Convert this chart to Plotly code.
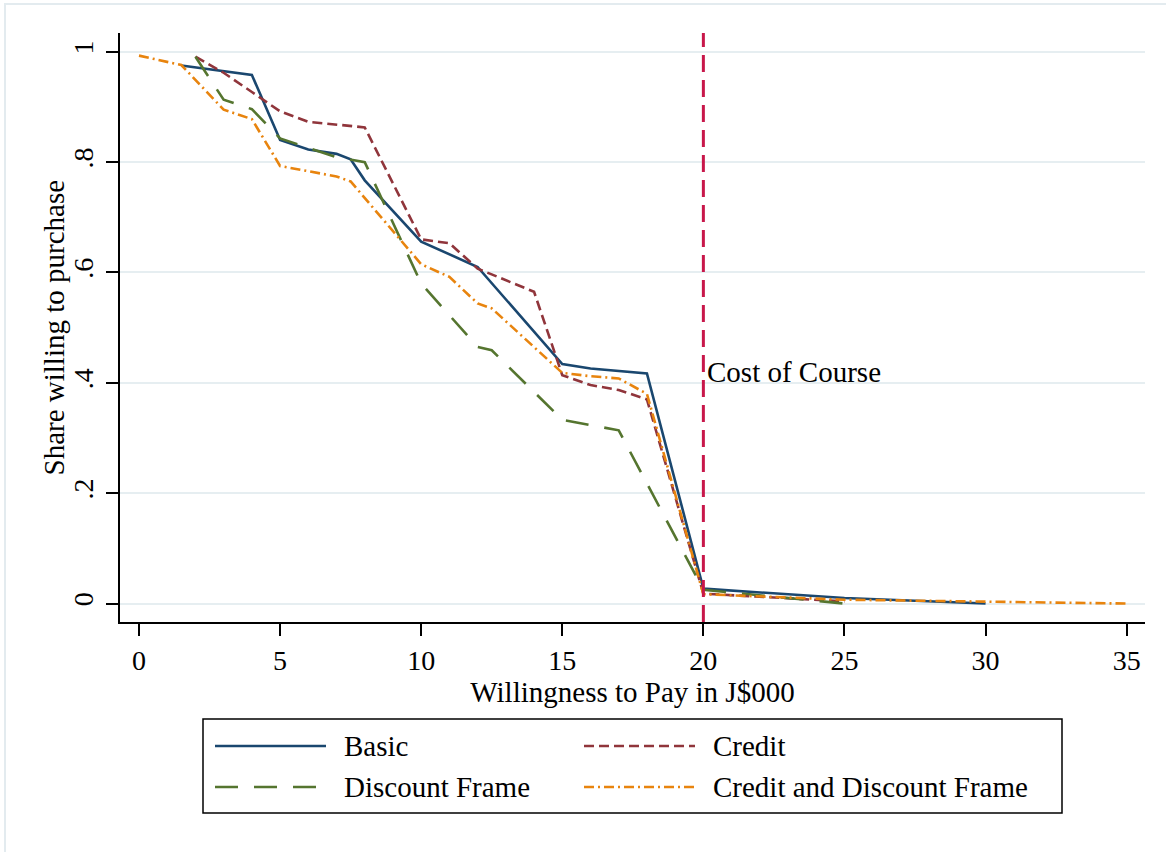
import plotly.graph_objects as go

# ---------------- data ----------------
basic_x = [1.5, 4, 5, 6, 7, 7.5, 8, 10, 12, 15, 16, 18, 20, 25, 30]
basic_y = [0.975, 0.958, 0.840, 0.823, 0.815, 0.805, 0.767, 0.656, 0.610, 0.434, 0.426, 0.417, 0.027, 0.010, 0.0]

credit_x = [2, 3, 4, 5, 6, 8, 10, 11, 12, 14, 15, 16, 17, 18, 20, 25]
credit_y = [0.991, 0.962, 0.927, 0.892, 0.873, 0.863, 0.660, 0.653, 0.607, 0.565, 0.414, 0.396, 0.387, 0.370, 0.018, 0.004]

disc_x = [2, 3, 4, 5, 7, 8, 10, 12, 12.5, 15, 17, 20, 25]
disc_y = [0.991, 0.913, 0.896, 0.843, 0.809, 0.800, 0.580, 0.465, 0.459, 0.333, 0.314, 0.025, 0.0]

cd_x = [0, 1.5, 3, 4, 5, 7, 7.5, 10, 11, 12, 12.5, 15, 16, 17, 18, 20, 25, 30, 35]
cd_y = [0.993, 0.976, 0.895, 0.878, 0.793, 0.774, 0.765, 0.615, 0.592, 0.544, 0.535, 0.418, 0.412, 0.408, 0.380, 0.017, 0.007, 0.003, 0.0]

series_names = ["Basic", "Credit", "Discount Frame", "Credit and Discount Frame"]
cost_of_course = 20
cost_label = "Cost of Course"

x_ticks = [0, 5, 10, 15, 20, 25, 30, 35]
y_ticks = [0, 0.2, 0.4, 0.6, 0.8, 1]
y_ticktext = ["0", ".2", ".4", ".6", ".8", "1"]

x_title = "Willingness to Pay in J$000"
y_title = "Share willing to purchase"

# ---------------- styling ----------------
W, H = 1166, 852
L, R, T, B = 120, 1145, 33, 622  # plot area in px
FONT = "Liberation Serif, Times New Roman, serif"

colors = ["#1A476F", "#90353B", "#55752F", "#E8840E"]
dashes = ["solid", "10px,5px", "23px,16px", "10px,4px,2px,4px"]
LW = 2.6


def px_x(p):
    return (p - L) / (R - L)


def px_y(p):
    return (B - p) / (B - T)


fig = go.Figure()
data = [(basic_x, basic_y), (credit_x, credit_y), (disc_x, disc_y), (cd_x, cd_y)]
for (xs, ys), name, c, d in zip(data, series_names, colors, dashes):
    fig.add_trace(go.Scatter(x=xs, y=ys, mode="lines", name=name,
                             line=dict(color=c, width=LW, dash=d),
                             showlegend=False))

shapes = []
# vertical cost line
shapes.append(dict(type="line", xref="x", yref="paper", x0=cost_of_course, x1=cost_of_course,
                   y0=0, y1=1, line=dict(color="#C8174A", width=3, dash="17px,8px")))
# outer graph region frame
shapes.append(dict(type="rect", xref="paper", yref="paper",
                   x0=px_x(5), x1=px_x(1180), y0=px_y(4), y1=px_y(870),
                   line=dict(color="#E3EBEF", width=2), fillcolor="rgba(0,0,0,0)", layer="below"))
# legend box
shapes.append(dict(type="rect", xref="paper", yref="paper",
                   x0=px_x(203), x1=px_x(1062), y0=px_y(719), y1=px_y(813),
                   line=dict(color="black", width=1.5), fillcolor="white"))

annotations = []
leg_pos = [(215, 746), (584, 746), (215, 787), (584, 787)]
for (lx, ly), name, c, d in zip(leg_pos, series_names, colors, dashes):
    shapes.append(dict(type="line", xref="paper", yref="paper",
                       x0=px_x(lx), x1=px_x(lx + 111), y0=px_y(ly), y1=px_y(ly),
                       line=dict(color=c, width=LW, dash=d)))
    annotations.append(dict(xref="paper", yref="paper", x=px_x(lx + 127), y=px_y(ly),
                            text=name, showarrow=False, xanchor="left", yanchor="middle",
                            font=dict(family=FONT, size=29, color="black")))

annotations.append(dict(xref="x", yref="y", x=cost_of_course, y=0.42, text=cost_label,
                        showarrow=False, xanchor="left", yanchor="middle", xshift=2,
                        font=dict(family=FONT, size=29, color="black")))

# y-axis title placed as rotated text
annotations.append(dict(xref="paper", yref="paper", x=px_x(53), y=0.5, text=y_title,
                        textangle=-90, showarrow=False, xanchor="center", yanchor="middle",
                        font=dict(family=FONT, size=29, color="black")))

fig.update_layout(
    width=W, height=H,
    margin=dict(l=L, r=W - R, t=T, b=H - B, pad=0),
    paper_bgcolor="white", plot_bgcolor="white",
    font=dict(family=FONT, size=28, color="black"),
    shapes=shapes, annotations=annotations,
    showlegend=False,
)

fig.update_xaxes(
    range=[-0.673, 35.65], tickvals=x_ticks, ticks="outside", ticklen=12, tickwidth=2,
    tickcolor="black", showline=True, linecolor="black", linewidth=2,
    showgrid=False, zeroline=False, tickfont=dict(family=FONT, size=28),
    title=dict(text=x_title, font=dict(family=FONT, size=29), standoff=3),
)
fig.update_yaxes(
    range=[-0.0334, 1.034], tickvals=y_ticks, ticktext=y_ticktext, tickangle=-90,
    ticks="outside", ticklen=12, tickwidth=2, tickcolor="black",
    showline=True, linecolor="black", linewidth=2,
    showgrid=True, gridcolor="#E6EEF1", gridwidth=2, zeroline=False,
    tickfont=dict(family=FONT, size=28), ticklabelstandoff=2,
)

fig.write_html("out.html")
